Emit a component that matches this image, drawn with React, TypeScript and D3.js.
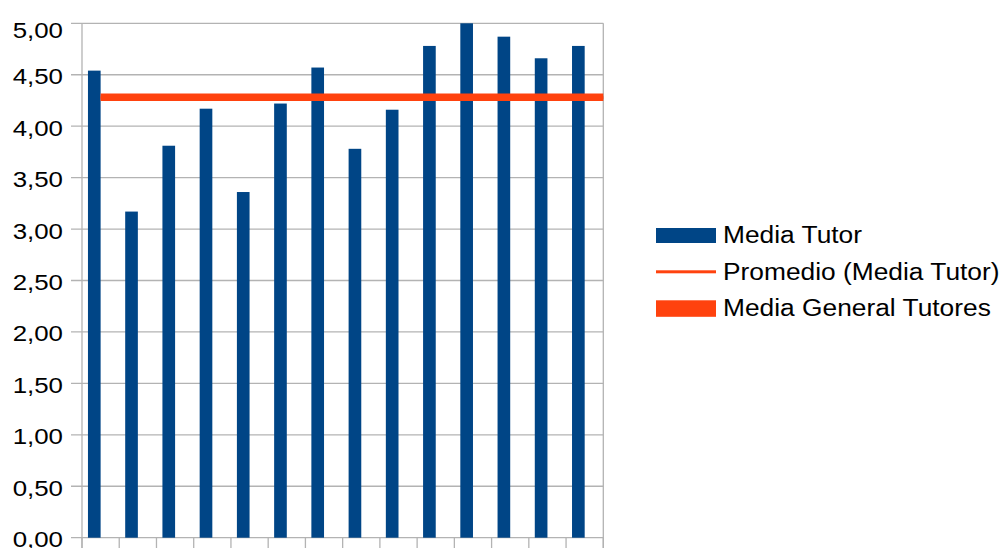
import React from "react";
import * as d3 from "d3";

const categories = ["T1", "T2", "T3", "T4", "T5", "T6", "T7", "T8", "T9", "T10", "T11", "T12", "T13", "T14"];
const mediaTutor = [4.54, 3.17, 3.81, 4.17, 3.36, 4.22, 4.57, 3.78, 4.16, 4.78, 5.0, 4.87, 4.66, 4.78];
const mediaGeneral = [4.28, 4.28, 4.28, 4.28, 4.28, 4.28, 4.28, 4.28, 4.28, 4.28, 4.28, 4.28, 4.28, 4.28];
const yTicks = [0, 0.5, 1, 1.5, 2, 2.5, 3, 3.5, 4, 4.5, 5];
const legendLabels = ["Media Tutor", "Promedio (Media Tutor)", "Media General Tutores"];

const W = 1006;
const H = 548;
const BLUE = "#004586";
const ORANGE = "#ff420e";
const GRID = "#b3b3b3";
const FONT = "'Liberation Sans', Arial, sans-serif";

export default function App() {
  const left = 82;
  const right = 603.3;
  const top = 23.3;
  const bottom = 537.7;

  const x = d3.scaleBand<string>().domain(categories).range([left, right]).padding(0);
  const bw = x.bandwidth();
  const xSub = d3.scaleBand<string>().domain(["tutor", "general"]).range([bw * 0.16, bw * 0.84]);
  const y = d3.scaleLinear().domain([0, 5]).range([bottom, top]);
  const fmt = (v: number) => d3.format(".2f")(v).replace(".", ",");
  const mean = d3.mean(mediaTutor) as number;

  const firstC = (x(categories[0]) as number) + bw / 2;

  const lineGen = d3
    .line<number>()
    .x((_, i) => (i === mediaGeneral.length - 1 ? right : (x(categories[i]) as number) + bw / 2))
    .y((d) => y(d));

  const boundaries = categories.map((c) => x(c) as number).concat([right]);

  const legX = 656;
  const legTextX = 723;
  const rowC = [235.5, 271.8, 308.3];

  return (
    <svg
      width={W}
      height={H}
      style={{ position: "fixed", left: 0, top: 0, background: "#fff" }}
      fontFamily={FONT}
    >
      <rect x={0} y={0} width={W} height={H} fill="#fff" />
      {/* gridlines */}
      {yTicks.map((t) => (
        <line key={"g" + t} x1={71} x2={right} y1={y(t)} y2={y(t)} stroke={GRID} strokeWidth={1.3} />
      ))}
      {/* axis lines */}
      <line x1={left} x2={left} y1={top} y2={H} stroke={GRID} strokeWidth={1.3} />
      <line x1={right} x2={right} y1={top} y2={H} stroke={GRID} strokeWidth={1.3} />
      {boundaries.map((b, i) => (
        <line key={"t" + i} x1={b} x2={b} y1={bottom} y2={H} stroke={GRID} strokeWidth={1.3} />
      ))}
      {/* y labels */}
      {yTicks.map((t) => {
        const base = Math.max(y(t) + 9.5, 37.7);
        return (
          <text
            key={"l" + t}
            transform={`translate(63,${base}) scale(1.16,1)`}
            textAnchor="end"
            fontSize={22.3}
            fill="#000"
          >
            {fmt(t)}
          </text>
        );
      })}
      {/* bars */}
      {mediaTutor.map((v, i) => (
        <rect
          key={"b" + i}
          x={(x(categories[i]) as number) + (xSub("tutor") as number)}
          y={y(v)}
          width={xSub.bandwidth()}
          height={bottom - y(v)}
          fill={BLUE}
        />
      ))}
      {/* mean line */}
      <line x1={firstC} x2={right} y1={y(mean)} y2={y(mean)} stroke={ORANGE} strokeWidth={3} />
      {/* Media General line */}
      <path d={lineGen(mediaGeneral) || ""} fill="none" stroke={ORANGE} strokeWidth={7.5} />
      {/* legend */}
      <rect x={legX} y={rowC[0] - 7.5} width={60} height={15} fill={BLUE} />
      <rect x={legX} y={rowC[1] - 1.5} width={60} height={3} fill={ORANGE} />
      <rect x={legX} y={rowC[2] - 8} width={60} height={16.5} fill={ORANGE} />
      {legendLabels.map((l, i) => (
        <text
          key={"leg" + i}
          transform={`translate(${legTextX},${rowC[i] + 7.8}) scale(1.13,1)`}
          fontSize={23.3}
          fill="#000"
        >
          {l}
        </text>
      ))}
    </svg>
  );
}
